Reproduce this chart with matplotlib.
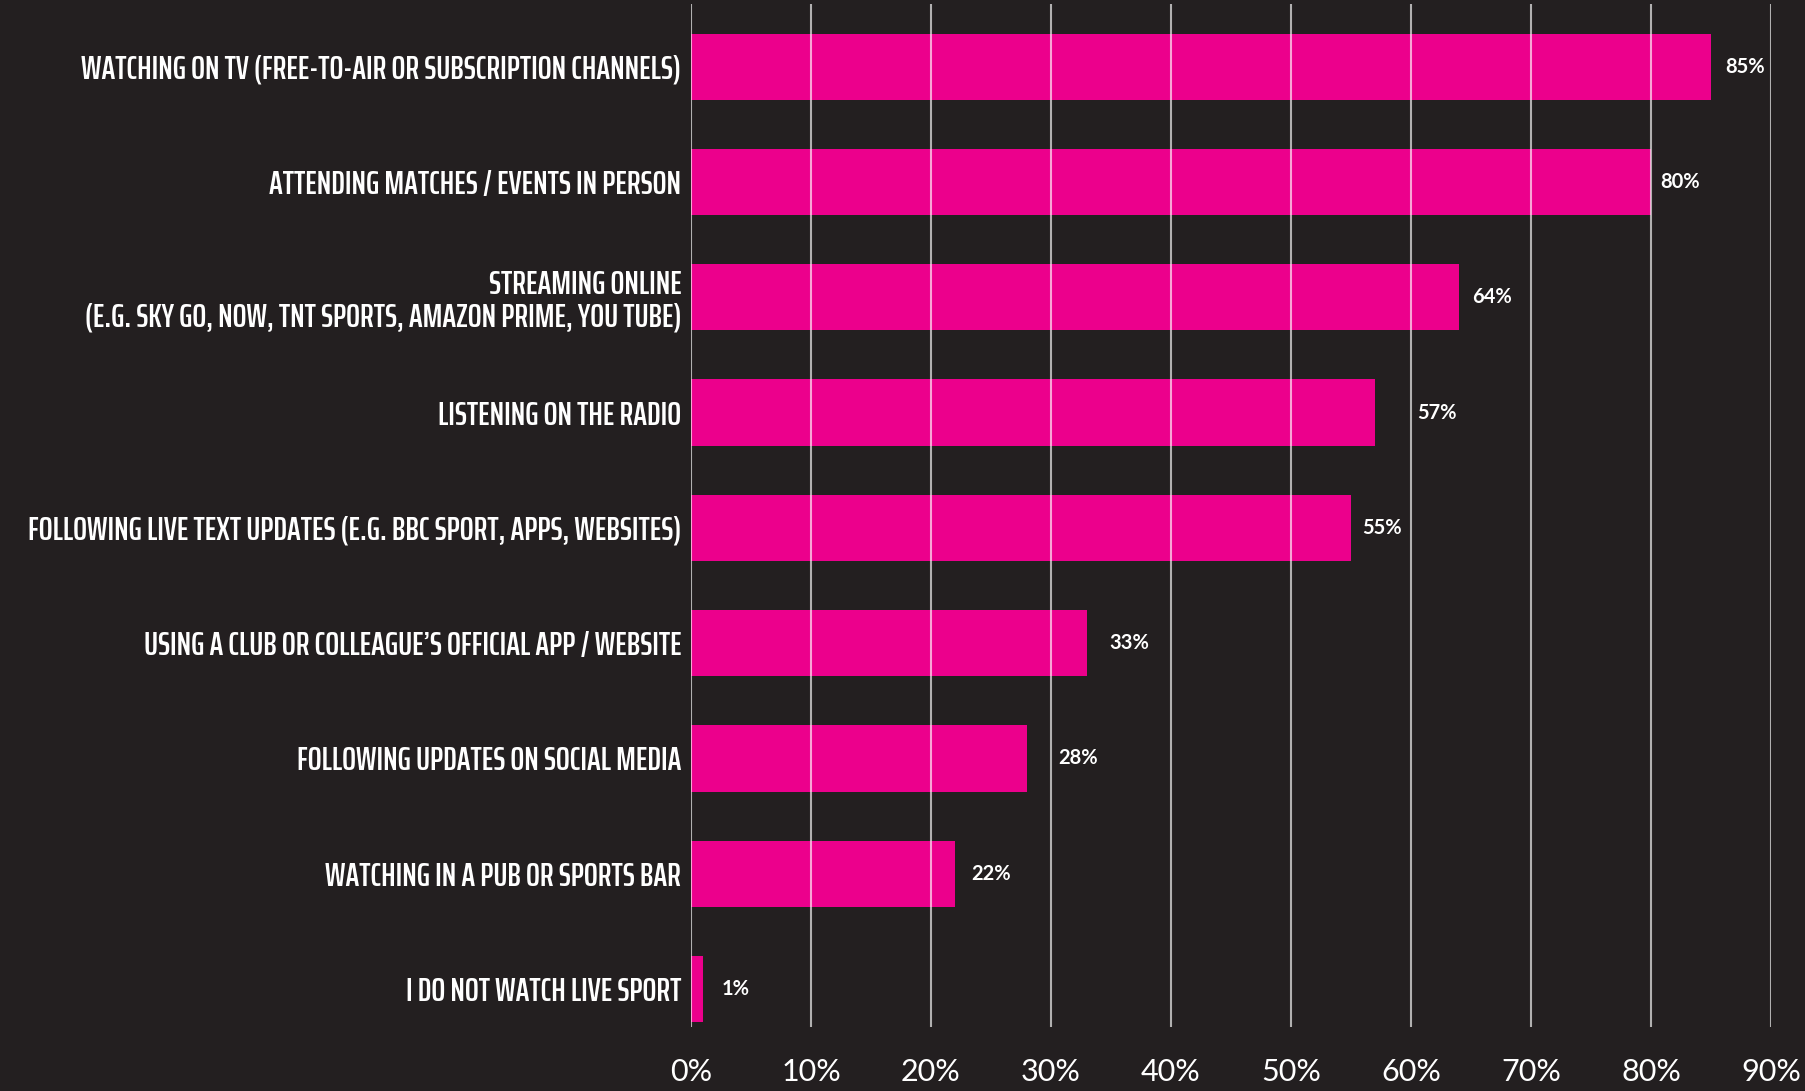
import matplotlib
matplotlib.use('Agg')
import matplotlib.pyplot as plt

categories = [
    'WATCHING ON TV (FREE-TO-AIR OR SUBSCRIPTION CHANNELS)',
    'ATTENDING MATCHES / EVENTS IN PERSON',
    'STREAMING ONLINE\n(E.G. SKY GO, NOW, TNT SPORTS, AMAZON PRIME, YOU TUBE)',
    'LISTENING ON THE RADIO',
    'FOLLOWING LIVE TEXT UPDATES (E.G. BBC SPORT, APPS, WEBSITES)',
    'USING A CLUB OR COLLEAGUE\u2019S OFFICIAL APP / WEBSITE',
    'FOLLOWING UPDATES ON SOCIAL MEDIA',
    'WATCHING IN A PUB OR SPORTS BAR',
    'I DO NOT WATCH LIVE SPORT',
]
values = [85, 80, 64, 57, 55, 33, 28, 22, 1]
x_ticks = [0, 10, 20, 30, 40, 50, 60, 70, 80, 90]

# gap (px) between bar end and its value label
label_gap = [14, 9, 13, 42, 11, 22, 31, 16, 19]

bg = '#231f20'
pink = '#ec008c'
cat_font = ['Saira ExtraCondensed', 'Barlow Condensed', 'DejaVu Sans']

fig = plt.figure(figsize=(18.06, 10.91), dpi=100, facecolor=bg)
ax = fig.add_axes([691 / 1806, 1 - 1027 / 1091, 1080 / 1806, 1023 / 1091])
ax.set_facecolor(bg)

y = list(range(len(categories)))
ax.barh(y, values, height=0.575, color=pink, zorder=2)

ax.set_xlim(0, 90)
ax.set_ylim(8.33, -0.545)
ax.set_xticks(x_ticks)
ax.set_xticklabels([f'{t}%' for t in x_ticks], fontfamily='Lato', fontweight='normal',
                   fontsize=22, color='white')
ax.set_yticks(y)
ylabels = ax.set_yticklabels(categories, fontfamily=cat_font, fontweight=600,
                             fontsize=24, color='white', linespacing=1.1)
ax.tick_params(axis='x', length=0, pad=22)
ax.tick_params(axis='y', length=0, pad=7)

# size the category labels so the widest one spans 653 px
r = fig.canvas.get_renderer()
widest = max(t.get_window_extent(r).width for t in ylabels)
size = 24 * 653 / widest
for t in ylabels:
    t.set_fontsize(size)

ax.grid(axis='x', color='white', alpha=0.65, linewidth=1.5, zorder=3)
ax.set_axisbelow(False)
for s in ax.spines.values():
    s.set_visible(False)

for yi, v, g in zip(y, values, label_gap):
    ax.annotate(f'{v}%', (v, yi), xytext=(g * 0.72, 0), textcoords='offset points',
                ha='left', va='center', color='white', fontsize=14.5,
                fontfamily='Lato', fontweight='bold')

fig.savefig('out.png', dpi=100, facecolor=bg)
